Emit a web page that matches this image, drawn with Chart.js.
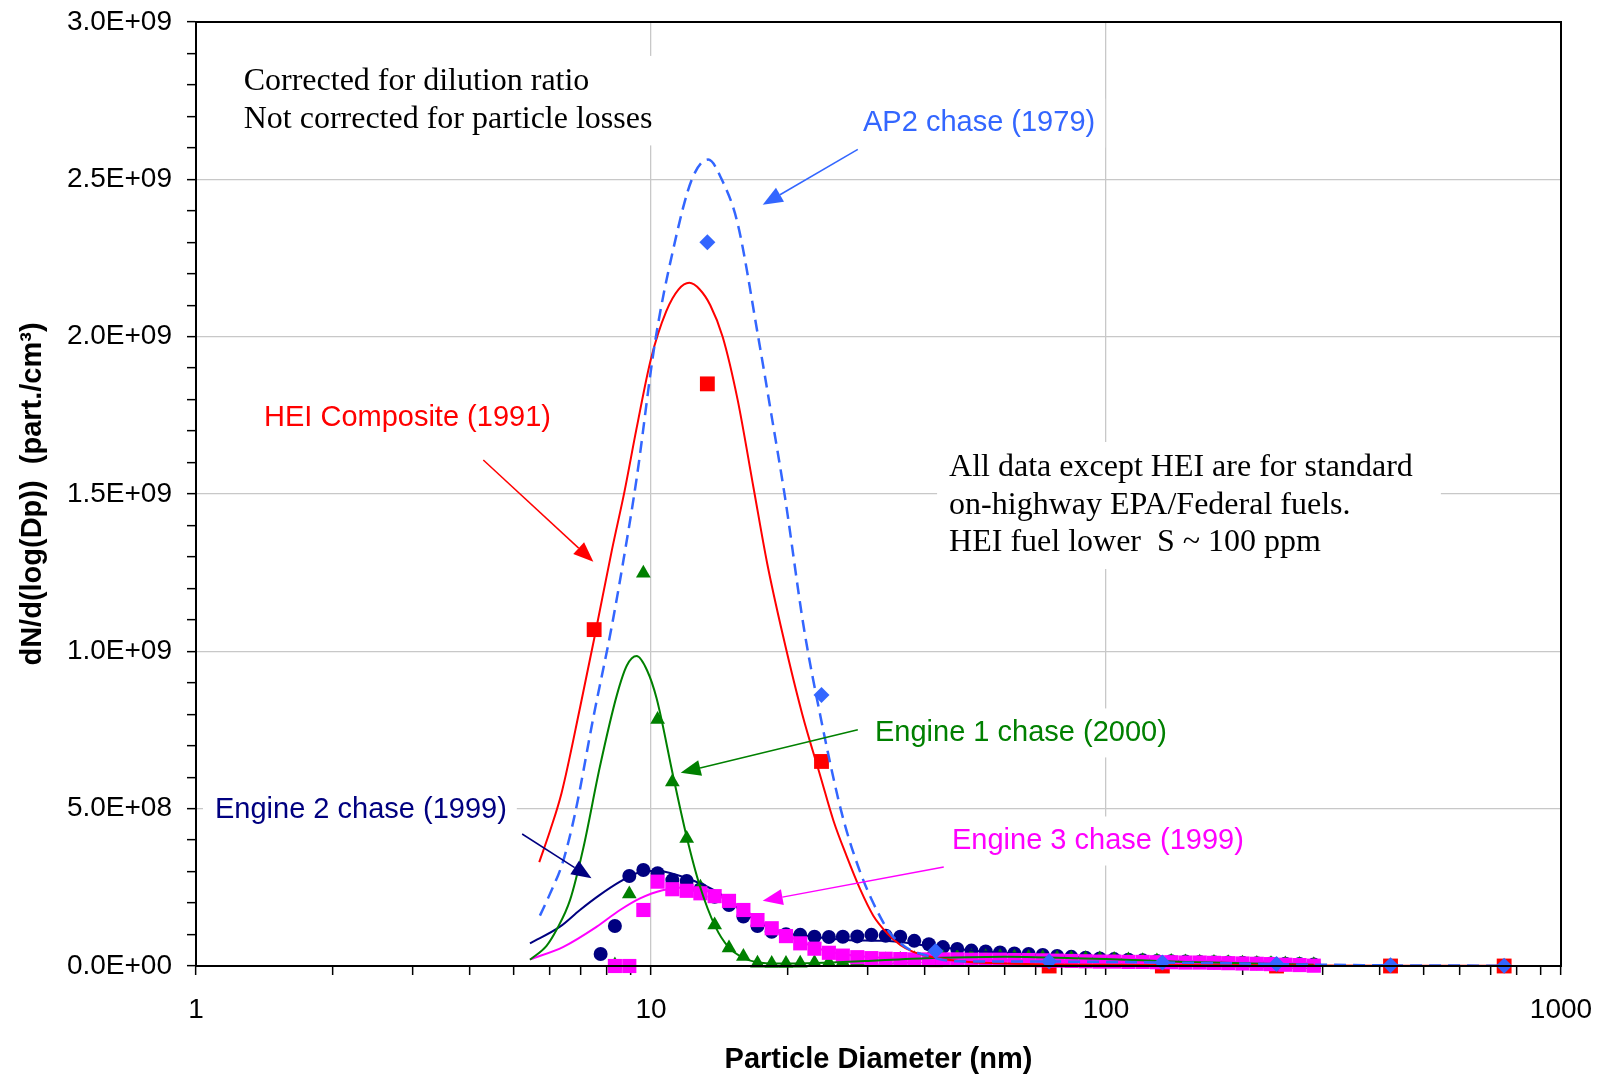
<!DOCTYPE html>
<html>
<head>
<meta charset="utf-8">
<title>Particle size distributions</title>
<script src="https://cdn.jsdelivr.net/npm/chart.js@4.4.1/dist/chart.umd.min.js"></script>
<style>
  html, body { margin: 0; padding: 0; background: #fff; }
  canvas { display: block; }
</style>
</head>
<body>
<canvas id="psdChart" width="1605" height="1075"></canvas>
<script>
// all concentrations below are in units of 1E+09 part./cm3
const UNIT = 1e9;

// SMPS channel diameters (nm) shared by the three engine data sets
const smpsDiameters = [7.75, 8.33, 8.96, 9.62, 10.34, 11.14, 11.98, 12.84, 13.8, 14.84,
  15.96, 17.14, 18.42, 19.8, 21.28, 22.87, 24.6, 26.4, 28.4, 30.5,
  32.8, 35.3, 37.9, 40.8, 43.8, 47.1, 50.6, 54.4, 58.5, 62.9,
  67.6, 72.6, 78.1, 83.9, 90.2, 96.9, 104.2, 112.0, 120.4, 129.4,
  139.1, 149.5, 160.7, 172.7, 185.6, 199.5, 214.5, 230.5, 247.8, 266.3, 286.2];

const engine1Values = [null, 0.003, 0.229, 1.248, 0.783, 0.585, 0.405, 0.25, 0.13, 0.057,
  0.03, 0.009, 0.008, 0.008, 0.009, 0.010, 0.011, 0.013, 0.015, 0.017,
  0.019, 0.021, 0.023, 0.025, 0.027, 0.028, 0.029, 0.029, 0.029, 0.028,
  0.027, 0.026, 0.025, 0.024, 0.023, 0.022, 0.021, 0.019, 0.017, 0.016,
  0.014, 0.013, 0.012, 0.011, 0.010, 0.009, 0.008, 0.007, 0.006, 0.005, 0.004];

const engine2Values = [0.038, 0.127, 0.286, 0.305, 0.295, 0.273, 0.270, 0.244, 0.220, 0.194,
  0.157, 0.127, 0.109, 0.101, 0.099, 0.093, 0.092, 0.093, 0.094, 0.099,
  0.096, 0.093, 0.080, 0.069, 0.060, 0.054, 0.049, 0.046, 0.043, 0.040,
  0.038, 0.035, 0.032, 0.029, 0.026, 0.024, 0.022, 0.020, 0.018, 0.016,
  0.015, 0.014, 0.013, 0.012, 0.011, 0.010, 0.009, 0.008, 0.007, 0.006, 0.005];

const engine3Values = [null, 0.0, 0.0, 0.178, 0.268, 0.244, 0.239, 0.231, 0.222, 0.207,
  0.178, 0.146, 0.120, 0.095, 0.072, 0.055, 0.042, 0.033, 0.028, 0.025,
  0.023, 0.022, 0.021, 0.021, 0.021, 0.021, 0.020, 0.020, 0.020, 0.019,
  0.019, 0.018, 0.017, 0.016, 0.015, 0.014, 0.014, 0.013, 0.013, 0.012,
  0.012, 0.011, 0.011, 0.010, 0.009, 0.008, 0.007, 0.006, 0.004, 0.003, 0.001];

// older data sets, coarse channels
const ap2Diameters = [13.3, 23.7, 42.2, 75, 133, 237, 422, 750];
const ap2Values = [2.30, 0.861, 0.048, 0.014, 0.011, 0.006, 0.002, 0.001];
const heiDiameters = [7.5, 13.3, 23.7, 42.2, 75, 133, 237, 422, 750];
const heiValues = [1.069, 1.85, 0.65, 0.02, 0, 0, 0, 0, 0];

// fitted curves
const ap2FitX = [5.7, 6.0, 6.4, 6.81, 7.47, 8.2, 8.7, 9.3, 10.2, 11.2, 12.3, 13.36, 14.3, 15.5, 17.2, 18.4, 19.7,
  21.7, 23.6, 25.8, 26.9, 28.8, 30.8, 33.5, 35.3, 37.1, 40, 42.5, 47, 60, 75, 100, 133, 180, 237, 300, 422, 750];
const ap2FitY = [0.16, 0.23, 0.33, 0.485, 0.79, 1.08, 1.29, 1.55, 1.98, 2.28, 2.5, 2.563, 2.5, 2.36, 2.0, 1.75, 1.49,
  1.07, 0.79, 0.53, 0.43, 0.30, 0.20, 0.105, 0.073, 0.051, 0.035, 0.024, 0.015, 0.014, 0.014, 0.013, 0.011, 0.009, 0.006, 0.004, 0.002, 0.001];

const heiFitX = [5.68, 6.0, 6.36, 6.98, 7.55, 8.2, 8.75, 9.3, 10.0, 10.8, 11.5, 12.14, 12.8, 13.5, 14.37, 15.5, 16.8,
  18.0, 19.5, 21.5, 23.6, 25.2, 26.9, 28.8, 30.8, 33, 35.3, 37.7, 41, 45, 50, 60, 75, 100, 150, 237, 422, 750];
const heiFitY = [0.33, 0.43, 0.55, 0.82, 1.06, 1.32, 1.51, 1.71, 1.93, 2.08, 2.15, 2.171, 2.15, 2.10, 2.0, 1.80, 1.52,
  1.28, 1.05, 0.80, 0.60, 0.46, 0.35, 0.245, 0.16, 0.105, 0.067, 0.045, 0.03, 0.02, 0.013, 0.008, 0.005, 0.004, 0.003, 0.002, 0.001, 0.0005];

const engine1FitX = [5.42, 5.9, 6.2, 6.64, 7.1, 7.72, 8.41, 8.85, 9.3, 9.8, 10.29, 11.2, 11.98, 12.8, 13.85, 14.8, 16.0,
  17.1, 19, 22, 25, 30, 35, 40, 50, 60, 70, 85, 100, 120, 150, 200, 286];
const engine1FitY = [0.02, 0.065, 0.115, 0.21, 0.375, 0.633, 0.86, 0.955, 0.985, 0.94, 0.85, 0.6, 0.41, 0.255, 0.125, 0.06, 0.025,
  0.012, 0.008, 0.009, 0.011, 0.016, 0.021, 0.025, 0.028, 0.029, 0.028, 0.025, 0.022, 0.018, 0.013, 0.009, 0.004];

const engine2FitX = [5.42, 6.31, 6.98, 7.72, 8.55, 9.3, 10.3, 11.6, 12.8, 14.2, 15.7, 17.4, 19.2, 22.7, 26.9, 32, 36,
  40, 45, 55, 70, 90, 120, 160, 220, 286];
const engine2FitY = [0.072, 0.125, 0.178, 0.226, 0.268, 0.295, 0.303, 0.286, 0.263, 0.229, 0.178, 0.136, 0.109, 0.093, 0.083, 0.08, 0.075,
  0.065, 0.057, 0.045, 0.036, 0.027, 0.019, 0.013, 0.008, 0.005];

const engine3FitX = [5.42, 6.42, 7.6, 8.55, 9.46, 10.6, 11.98, 13.7, 15.7, 17.7, 20.9, 24.7, 29.3, 35, 50, 80, 120, 200, 286];
const engine3FitY = [0.021, 0.061, 0.125, 0.178, 0.215, 0.241, 0.25, 0.231, 0.188, 0.136, 0.083, 0.045, 0.03, 0.024, 0.021, 0.017, 0.013, 0.008, 0.002];

// axis ticks
const xTickValues = [1, 2, 3, 4, 5, 6, 7, 8, 9, 10, 20, 30, 40, 50, 60, 70, 80, 90,
  100, 200, 300, 400, 500, 600, 700, 800, 900, 1000];
const xLabelValues = [1, 10, 100, 1000];
const xGridValues = [10, 100];

// text labels and arrows, positioned in data units (nm, 1E+09)
const notes = [
  { lines: ['Corrected for dilution ratio', 'Not corrected for particle losses'], x: 1.273, y: 2.816, color: '#000000', serif: true },
  { lines: ['AP2 chase (1979)'], x: 29.24, y: 2.685, color: '#3366FF' },
  { lines: ['HEI Composite (1991)'], x: 1.411, y: 1.748, color: '#FF0000' },
  { lines: ['All data except HEI are for standard', 'on-highway EPA/Federal fuels.', 'HEI fuel lower  S ~ 100 ppm'], x: 45.2, y: 1.589, color: '#000000', serif: true, padRight: 28 },
  { lines: ['Engine 1 chase (2000)'], x: 31.07, y: 0.747, color: '#008000' },
  { lines: ['Engine 2 chase (1999)'], x: 1.101, y: 0.502, color: '#000080' },
  { lines: ['Engine 3 chase (1999)'], x: 45.87, y: 0.4036, color: '#FF00FF' }
];
const arrows = [
  { from: [28.48, 2.595], to: [17.6, 2.419], color: '#3366FF' },
  { from: [4.28, 1.608], to: [7.47, 1.285], color: '#FF0000' },
  { from: [28.48, 0.7506], to: [11.62, 0.614], color: '#008000' },
  { from: [5.21, 0.4195], to: [7.40, 0.2787], color: '#000080' },
  { from: [44.0, 0.3146], to: [17.6, 0.2072], color: '#FF00FF' }
];

function pts(xs, ys) {
  return xs.map((x, i) => ({ x: x, y: ys[i] === null ? null : ys[i] * UNIT }));
}

function sci(v) {
  if (v === 0) return '0.0E+00';
  const e = Math.floor(Math.log10(v) + 1e-9);
  const m = v / Math.pow(10, e);
  return m.toFixed(1) + 'E+' + String(e).padStart(2, '0');
}

function drawArrow(ctx, x1, y1, x2, y2, color) {
  const ang = Math.atan2(y2 - y1, x2 - x1);
  const len = 20, half = 8;
  const bx = x2 - len * Math.cos(ang);
  const by = y2 - len * Math.sin(ang);
  ctx.strokeStyle = color;
  ctx.lineWidth = 1.5;
  ctx.beginPath();
  ctx.moveTo(x1, y1);
  ctx.lineTo(bx, by);
  ctx.stroke();
  ctx.fillStyle = color;
  ctx.beginPath();
  ctx.moveTo(x2, y2);
  ctx.lineTo(bx + half * Math.sin(ang), by - half * Math.cos(ang));
  ctx.lineTo(bx - half * Math.sin(ang), by + half * Math.cos(ang));
  ctx.closePath();
  ctx.fill();
}

const notesPlugin = {
  id: 'notes',
  beforeDatasetsDraw(chart) {
    const ctx = chart.ctx;
    const xs = chart.scales.x, ys = chart.scales.y;
    ctx.save();
    notes.forEach(n => {
      const size = n.serif ? 32 : 29;
      const step = n.serif ? 37.5 : 35;
      ctx.font = size + 'px ' + (n.serif ? '"Liberation Serif", "Times New Roman", serif' : '"Liberation Sans", Arial, sans-serif');
      const px = xs.getPixelForValue(n.x);
      const py = ys.getPixelForValue(n.y * UNIT) + 2;
      const w = Math.max(...n.lines.map(l => ctx.measureText(l).width));
      const pad = 10;
      const padR = n.padRight || pad;
      ctx.fillStyle = '#ffffff';
      ctx.fillRect(px - pad - 2, py - size / 2 - pad, w + pad + 2 + padR, (n.lines.length - 1) * step + size + 2 * pad);
      ctx.fillStyle = n.color;
      ctx.textAlign = 'left';
      ctx.textBaseline = 'middle';
      n.lines.forEach((l, i) => ctx.fillText(l, px, py + i * step));
    });
    ctx.restore();
  },
  afterDatasetsDraw(chart) {
    const ctx = chart.ctx;
    const xs = chart.scales.x, ys = chart.scales.y;
    ctx.save();
    arrows.forEach(a => {
      drawArrow(ctx,
        xs.getPixelForValue(a.from[0]), ys.getPixelForValue(a.from[1] * UNIT),
        xs.getPixelForValue(a.to[0]), ys.getPixelForValue(a.to[1] * UNIT), a.color);
    });
    const area = chart.chartArea;
    ctx.strokeStyle = '#000';
    ctx.lineWidth = 2;
    ctx.strokeRect(area.left, area.top, area.right - area.left, area.bottom - area.top);
    ctx.restore();
  }
};

const lineBase = { showLine: true, pointRadius: 0, borderWidth: 2, cubicInterpolationMode: 'monotone', fill: false };
const markBase = { showLine: false, pointBorderWidth: 0, clip: false };

const ctx = document.getElementById('psdChart').getContext('2d');
new Chart(ctx, {
  type: 'scatter',
  data: {
    datasets: [
      Object.assign({}, markBase, { label: 'AP2 chase (1979)', data: pts(ap2Diameters, ap2Values), pointStyle: 'rectRot', pointRadius: 8, backgroundColor: '#3366FF', borderColor: '#3366FF', order: 0 }),
      Object.assign({}, lineBase, { label: 'AP2 fit', data: pts(ap2FitX, ap2FitY), borderColor: '#3366FF', borderWidth: 2.5, borderDash: [12, 7], order: 1 }),
      Object.assign({}, lineBase, { label: 'HEI fit', data: pts(heiFitX, heiFitY), borderColor: '#FF0000', order: 2 }),
      Object.assign({}, lineBase, { label: 'Engine 1 fit', data: pts(engine1FitX, engine1FitY), borderColor: '#008000', order: 3 }),
      Object.assign({}, lineBase, { label: 'Engine 3 fit', data: pts(engine3FitX, engine3FitY), borderColor: '#FF00FF', order: 4 }),
      Object.assign({}, markBase, { label: 'Engine 3 chase (1999)', data: pts(smpsDiameters, engine3Values), pointStyle: 'rect', pointRadius: 10, backgroundColor: '#FF00FF', borderColor: '#FF00FF', order: 5 }),
      Object.assign({}, lineBase, { label: 'Engine 2 fit', data: pts(engine2FitX, engine2FitY), borderColor: '#000080', order: 6 }),
      Object.assign({}, markBase, { label: 'Engine 1 chase (2000)', data: pts(smpsDiameters, engine1Values), pointStyle: 'triangle', pointRadius: 8.5, backgroundColor: '#008000', borderColor: '#008000', order: 7 }),
      Object.assign({}, markBase, { label: 'Engine 2 chase (1999)', data: pts(smpsDiameters, engine2Values), pointStyle: 'circle', pointRadius: 7, backgroundColor: '#000080', borderColor: '#000080', order: 8 }),
      Object.assign({}, markBase, { label: 'HEI Composite (1991)', data: pts(heiDiameters, heiValues), pointStyle: 'rect', pointRadius: 10.5, backgroundColor: '#FF0000', borderColor: '#FF0000', order: 9 })
    ]
  },
  options: {
    responsive: false,
    animation: false,
    events: [],
    layout: { padding: { left: 0, right: 44, top: 22, bottom: 0 } },
    plugins: {
      legend: { display: false },
      tooltip: { enabled: false }
    },
    scales: {
      x: {
        type: 'logarithmic',
        min: 1,
        max: 1000,
        afterBuildTicks: (scale) => { scale.ticks = xTickValues.map(v => ({ value: v })); },
        afterFit: (scale) => {
          scale.height = 109;
          scale.paddingLeft = 0;
          scale.paddingRight = 0;
        },
        ticks: {
          autoSkip: false,
          maxRotation: 0,
          padding: 18,
          color: '#000',
          font: { family: 'Liberation Sans', size: 28 },
          callback: (v) => xLabelValues.includes(v) ? String(v) : ''
        },
        grid: {
          color: (c) => (c.tick && xGridValues.includes(c.tick.value)) ? '#c8c8c8' : 'rgba(0,0,0,0)',
          tickColor: '#000',
          tickLength: 9,
          tickWidth: 1.5,
          lineWidth: 1.3
        },
        border: { color: '#000', width: 2 },
        title: {
          display: true,
          text: 'Particle Diameter (nm)',
          color: '#000',
          font: { family: 'Liberation Sans', size: 29, weight: 'bold', lineHeight: 1 },
          padding: { top: 0, bottom: 1 }
        }
      },
      y: {
        min: 0,
        max: 3e9,
        afterFit: (scale) => {
          scale.width = 196;
          scale.paddingTop = 0;
          scale.paddingBottom = 0;
        },
        ticks: {
          stepSize: 1e8,
          autoSkip: false,
          padding: 15,
          color: '#000',
          font: { family: 'Liberation Sans', size: 28 },
          callback: (v) => Math.round(v / 1e8) % 5 === 0 ? sci(v) : ''
        },
        grid: {
          color: (c) => (c.tick && Math.round(c.tick.value / 1e8) % 5 === 0) ? '#c8c8c8' : 'rgba(0,0,0,0)',
          tickColor: '#000',
          tickLength: 9,
          tickWidth: 1.5,
          lineWidth: 1.3
        },
        border: { color: '#000', width: 2 },
        title: {
          display: true,
          text: 'dN/d(log(Dp))  (part./cm³)',
          color: '#000',
          font: { family: 'Liberation Sans', size: 29, weight: 'bold', lineHeight: 1 },
          padding: { top: 18.5, bottom: 0 }
        }
      }
    }
  },
  plugins: [notesPlugin]
});
</script>
</body>
</html>
